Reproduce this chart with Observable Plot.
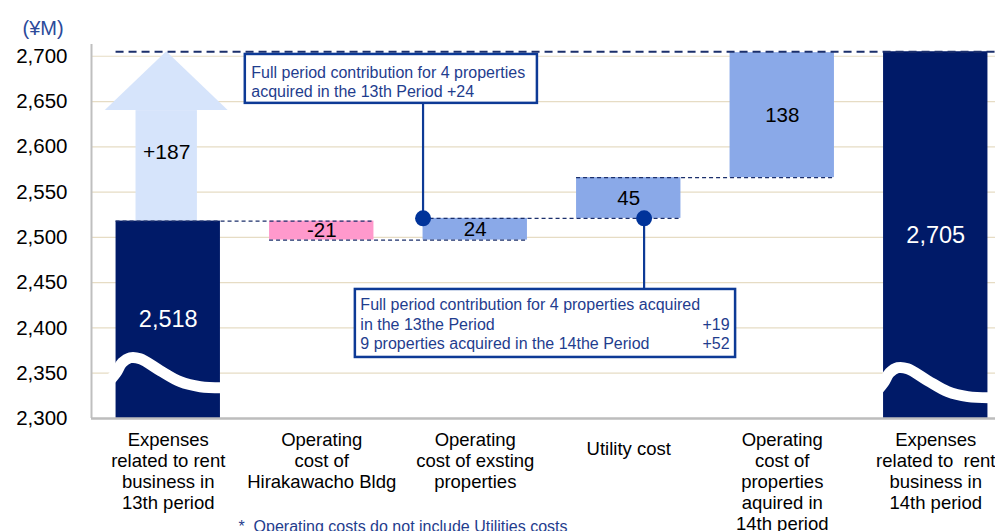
<!DOCTYPE html>
<html>
<head>
<meta charset="utf-8">
<script src="https://cdn.jsdelivr.net/npm/d3@7"></script>
<script src="https://cdn.jsdelivr.net/npm/@observablehq/plot@0.6"></script>
<style>
  html, body { margin: 0; padding: 0; background: #fff; overflow: hidden; }
  #chart svg { display: block; }
</style>
</head>
<body>
<div id="chart"></div>
<script>
// ---------- data ----------
const categories = [
  "Expenses\nrelated to rent\nbusiness in\n13th period",
  "Operating\ncost of\nHirakawacho Bldg",
  "Operating\ncost of exsting\nproperties",
  "Utility cost",
  "Operating\ncost of\nproperties\naquired in\n14th period",
  "Expenses\nrelated to  rent\nbusiness in\n14th period"
];
const values = [2518, -21, 24, 45, 138, 2705];
const valueLabels = ["2,518", "-21", "24", "45", "138", "2,705"];
const kinds = ["total", "decrease", "increase", "increase", "increase", "total"];
const yTicks = [2300, 2350, 2400, 2450, 2500, 2550, 2600, 2650, 2700];
const unitLabel = "(¥M)";
const callout1Lines = ["Full period contribution for 4 properties", "acquired in the 13th Period +24"];
const callout2Lines = ["Full period contribution for 4 properties acquired", "in the 13the Period", "9 properties acquired in the 14the Period"];
const callout2Values = ["", "+19", "+52"];
const footnote = "*  Operating costs do not include Utilities costs";

// ---------- derived ----------
const yBase = 2300;
const half = 0.34;
let level = 0;
const bars = values.map((v, i) => {
  let y1, y2;
  if (kinds[i] === "total") { y1 = yBase; y2 = v; level = v; }
  else { y1 = level; y2 = level + v; level = y2; }
  return { i, kind: kinds[i], y1, y2, label: valueLabels[i], mid: (y1 + y2) / 2 };
});
const connectors = bars.slice(0, 4).map(b => ({ x1: b.i - half, x2: b.i + 1 + half, y: b.y2 }));
const finalTotal = values[5];
const startTotal = values[0];
const growth = finalTotal - startTotal;

const colors = { total: "#001a68", decrease: "#ff99cc", increase: "#8aa9e8" };

// arrow geometry (in scale units)
const headBase = 2640;
const arrowShaft = [{ x1: -0.21, x2: 0.19, y1: startTotal, y2: headBase }];
const arrowHead = [
  { x: -0.41, y1: headBase, y2: headBase },
  { x: -0.01, y1: headBase, y2: finalTotal },
  { x: 0.39, y1: headBase, y2: headBase }
];

// wave shape offsets
const waveShape = [[-0.37, 10], [-0.339, 16.6], [-0.30, 27.6], [-0.248, 33.1], [-0.183, 32], [-0.052, 18.8], [0.078, 6.6], [0.209, 1.1], [0.36, 0]];
const waveBase = { 0: 2334, 5: 2323 };
const waves = [0, 5].flatMap(b => waveShape.map(([dx, dy]) => ({ bar: b, x: b + dx, y: waveBase[b] + dy })));

// callouts
const box1 = { x1: 0.502, x2: 2.405, y1: 2648, y2: 2702 };
const box2 = { x1: 1.219, x2: 3.696, y1: 2367.4, y2: 2442.5 };
const dot1 = { x: 2 - half, y: bars[2].y2 };
const dot2 = { x: 3.1, y: bars[3].y1 };

const navyLine = "#0d3a96";
const textBlue = "#1f3d8e";

const plot = Plot.plot({
  width: 995,
  height: 531,
  marginLeft: 91,
  marginRight: 0,
  marginTop: 44,
  marginBottom: 113,
  style: { fontFamily: "'Liberation Sans', Arial, sans-serif", background: "#fff", color: "#000" },
  x: { type: "linear", domain: [-0.5, 5.5], range: [91, 1012], axis: null },
  y: { domain: [2300, 2713], axis: null },
  marks: [
    Plot.gridY(yTicks.slice(1), { stroke: "#e6dcc4", strokeOpacity: 1, strokeWidth: 1.2 }),
    Plot.axisY({ ticks: yTicks, tickFormat: d3.format(","), tickSize: 0, tickPadding: 24, fontSize: 20.5, label: null }),
    // arrow
    Plot.rect(arrowShaft, { x1: "x1", x2: "x2", y1: "y1", y2: "y2", fill: "#d6e4fb" }),
    Plot.areaY(arrowHead, { x: "x", y1: "y1", y2: "y2", fill: "#d6e4fb" }),
    Plot.text([`+${growth}`], { x: -0.01, y: 2594, text: d => d, fontSize: 21, fill: "#000" }),
    // bars
    Plot.rect(bars, { x1: d => d.i - half, x2: d => d.i + half, y1: "y1", y2: "y2", fill: d => colors[d.kind] }),
    // waves
    Plot.line(waves, { x: "x", y: "y", z: "bar", stroke: "#fff", strokeWidth: 11, curve: "catmull-rom" }),
    // connectors
    Plot.ruleY(connectors, { x1: "x1", x2: "x2", y: "y", stroke: "#1b2f6b", strokeWidth: 1.4, strokeDasharray: "4,3" }),
    Plot.ruleY([finalTotal], { x1: -half, x2: 5.5, stroke: "#1b2f6b", strokeWidth: 1.8, strokeDasharray: "8,5" }),
    // axis lines
    Plot.ruleX([-0.5], { stroke: "#bfbfbf", strokeWidth: 2 }),
    Plot.ruleY([2300], { stroke: "#bdbdbd", strokeWidth: 2.5 }),
    // bar labels
    Plot.text(bars, { x: "i", y: "mid", text: "label",
      fill: d => d.kind === "total" ? "#fff" : "#000",
      fontSize: d => d.kind === "total" ? 23.5 : 20.5 }),
    // category labels
    Plot.text(categories.map((c, i) => ({ c, i })).filter(d => d.i !== 3), { x: "i", y: yBase, text: "c", lineAnchor: "top", dy: 13, fontSize: 18.5, lineHeight: 1.135, fill: "#000" }),
    Plot.text(categories.map((c, i) => ({ c, i })).filter(d => d.i === 3), { x: "i", y: yBase, text: "c", lineAnchor: "top", dy: 23, fontSize: 18.5, fill: "#000" }),
    // callout 1
    Plot.ruleX([dot1], { x: "x", y1: box1.y1, y2: dot1.y, stroke: navyLine, strokeWidth: 2.2 }),
    Plot.rect([box1], { x1: "x1", x2: "x2", y1: "y1", y2: "y2", fill: "#fff", stroke: navyLine, strokeWidth: 2.5 }),
    Plot.text([callout1Lines.join("\n")], { x: box1.x1, y: box1.y2, text: d => d, textAnchor: "start", lineAnchor: "top", dx: 6, dy: 10, fontSize: 16, lineHeight: 1.19, fill: textBlue }),
    Plot.dot([dot1], { x: "x", y: "y", r: 8, fill: "#00339a" }),
    // callout 2
    Plot.ruleX([dot2], { x: "x", y1: dot2.y, y2: box2.y2, stroke: navyLine, strokeWidth: 2.2 }),
    Plot.rect([box2], { x1: "x1", x2: "x2", y1: "y1", y2: "y2", fill: "#fff", stroke: navyLine, strokeWidth: 2.5 }),
    Plot.text([callout2Lines.join("\n")], { x: box2.x1, y: box2.y2, text: d => d, textAnchor: "start", lineAnchor: "top", dx: 5, dy: 7, fontSize: 16, lineHeight: 1.22, fill: textBlue }),
    Plot.text([callout2Values.join("\n")], { x: box2.x2, y: box2.y2, text: d => d, textAnchor: "end", lineAnchor: "top", dx: -6, dy: 7, fontSize: 16, lineHeight: 1.22, fill: textBlue }),
    Plot.dot([dot2], { x: "x", y: "y", r: 8, fill: "#00339a" }),
    // unit label & footnote
    Plot.text([unitLabel], { frameAnchor: "top-left", text: d => d, dx: -69, dy: -24, textAnchor: "start", fontSize: 20, fill: "#2c4a9a" }),
    Plot.text([footnote], { frameAnchor: "bottom-left", text: d => d, dx: 147, dy: 113, textAnchor: "start", fontSize: 16, fill: textBlue })
  ]
});
document.getElementById("chart").appendChild(plot);
</script>
</body>
</html>
